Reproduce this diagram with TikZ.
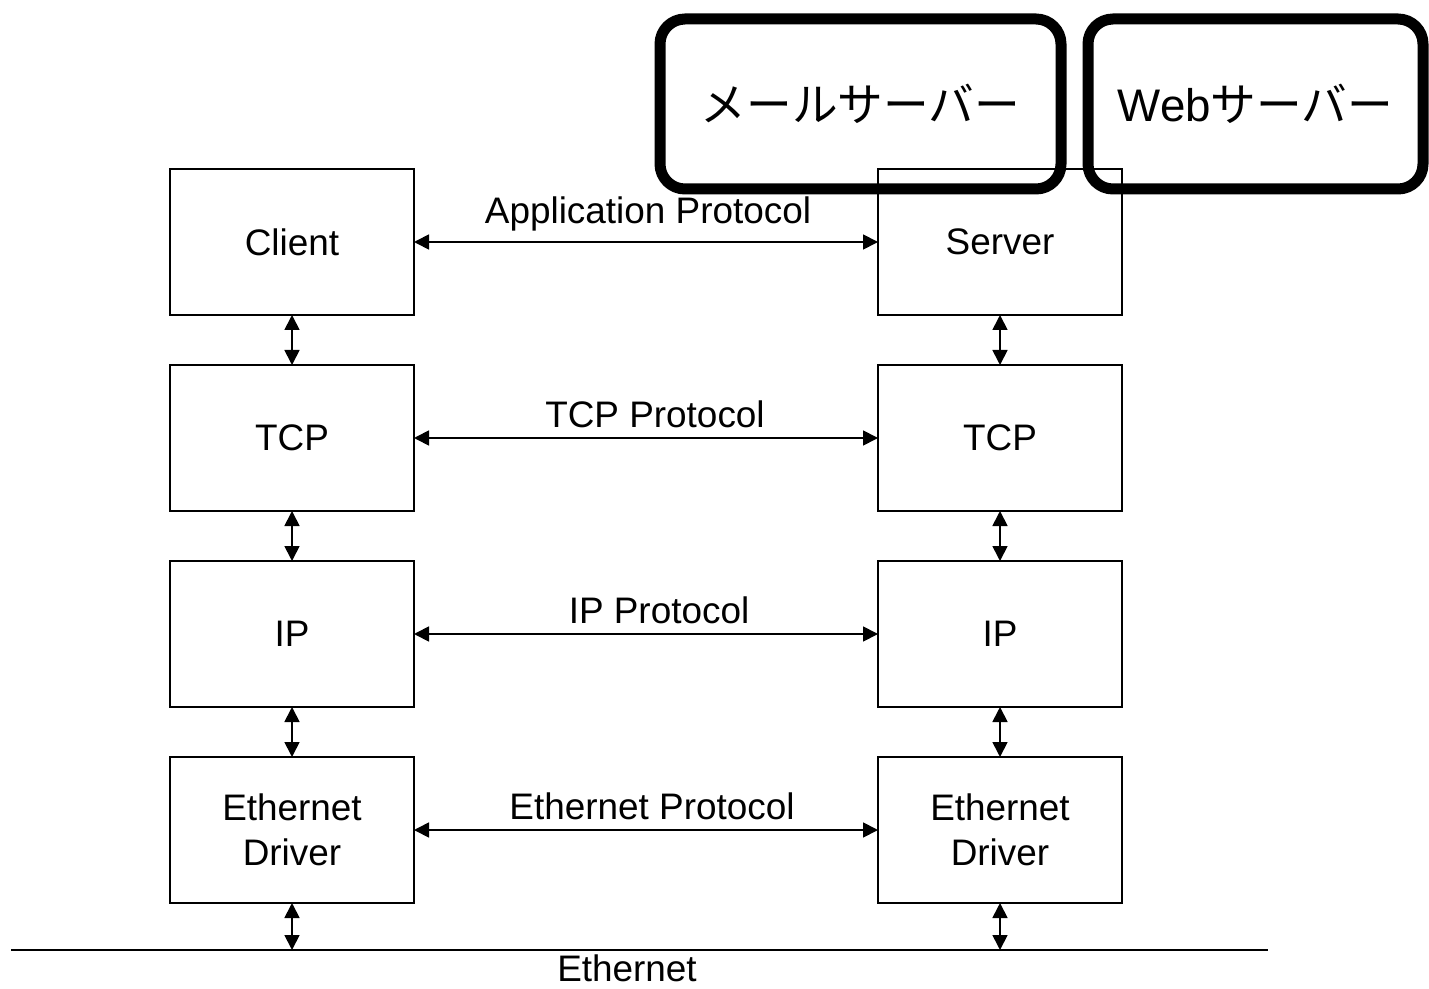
\documentclass[tikz,border=0pt]{standalone}
\usepackage{fontspec}
\setmainfont{Liberation Sans}
\newfontfamily\cjk{Noto Sans CJK JP}
\usepackage{tikz}
\usetikzlibrary{arrows.meta,positioning}
\tikzset{link/.style={{Triangle[length=3mm,width=3mm]}-{Triangle[length=3mm,width=3mm]}, line width=1pt}}

\begin{document}
\begin{tikzpicture}[
    layer/.style={rectangle, draw, line width=1pt, outer sep=0pt, minimum width=4.88cm, minimum height=2.92cm, align=center, font=\fontsize{21}{25.6}\selectfont},
    proto/.style={font=\fontsize{21}{25.6}\selectfont, inner sep=2pt},
    srvtag/.style={rectangle, rounded corners=0.5cm, draw, line width=0.22cm, minimum height=3.4cm, font=\fontsize{26}{30}\selectfont}
]
\useasboundingbox (0,0) rectangle (28.58,-19.78);

% Client side
\node (client) [layer] at (5.84,-4.84) {Client};
\node (tcpc) [layer, below=1cm of client] {TCP};
\node (ipc) [layer, below=1cm of tcpc] {IP};
\node (ethc) [layer, below=1cm of ipc] {Ethernet\\Driver};

% Server side
\node (server) [layer, right=9.28cm of client] {Server};
\node (tcps) [layer, below=1cm of server] {TCP};
\node (ips) [layer, below=1cm of tcps] {IP};
\node (eths) [layer, below=1cm of ips] {Ethernet\\Driver};

% Server tags
\node (mail) [srvtag, minimum width=8.02cm] at (17.21,-2.08) {\cjk メールサーバー};
\node (web) [srvtag, minimum width=6.7cm] at (25.11,-2.08) {Web{\cjk サーバー}};

% Ethernet cable
\coordinate (cablel) at (0.22,-19.0);
\coordinate (cabler) at (25.36,-19.0);
\draw[line width=1pt] (cablel) -- (cabler);
\node (cable) [proto, inner sep=0pt] at (12.54,-19.36) {Ethernet};

% Peer protocols
\draw[link] (client) -- (server) node[proto, midway, above=0.12cm, xshift=0.04cm] {Application Protocol};
\draw[link] (tcpc) -- (tcps) node[proto, midway, above=0.12cm, xshift=0.18cm] {TCP Protocol};
\draw[link] (ipc) -- (ips) node[proto, midway, above=0.12cm, xshift=0.26cm] {IP Protocol};
\draw[link] (ethc) -- (eths) node[proto, midway, above=0.12cm, xshift=0.12cm] {Ethernet Protocol};

% Layer stacks
\draw[link] (client) -- (tcpc);
\draw[link] (tcpc) -- (ipc);
\draw[link] (ipc) -- (ethc);
\draw[link] (ethc) -- (ethc |- cablel);
\draw[link] (server) -- (tcps);
\draw[link] (tcps) -- (ips);
\draw[link] (ips) -- (eths);
\draw[link] (eths) -- (eths |- cablel);
\end{tikzpicture}
\end{document}
